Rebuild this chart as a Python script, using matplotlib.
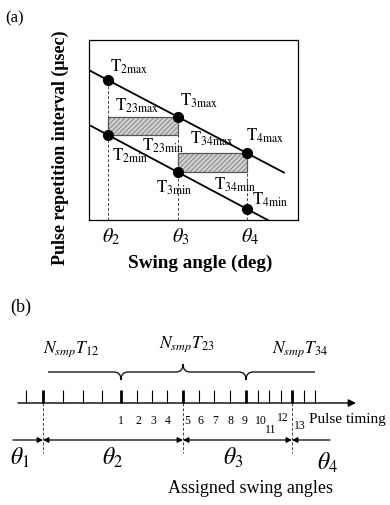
import numpy as np
import matplotlib
matplotlib.use('Agg')
import matplotlib.pyplot as plt
from matplotlib.patches import Rectangle, PathPatch
from matplotlib.path import Path

plt.rcParams['font.family'] = ['Liberation Serif', 'DejaVu Serif']
plt.rcParams['mathtext.fontset'] = 'stix'
plt.rcParams['hatch.linewidth'] = 0.6
plt.rcParams['hatch.color'] = '#7a7a7a'

# (a) pulse repetition interval vs swing angle
theta = [2.0, 3.0, 4.0]
theta_labels = [r'$\theta_2$', r'$\theta_3$', r'$\theta_4$']
t_max = [140, 103, 67]
t_min = [85, 48, 11]
max_names = ['2max', '3max', '4max']
min_names = ['2min', '3min', '4min']

# (b) pulse timing (pixel time units)
pulse_t = [26, 43, 63, 83, 102, 121, 137, 152, 167, 183, 199, 214, 230, 246,
           258, 269, 281, 292, 304, 315]
major_t = [43, 121, 183, 246, 292]
boundary_t = [43, 183, 292]
pulse_numbers = list(range(1, 14))
first_numbered = 5
bottom_thetas = [r'$\theta_1$', r'$\theta_2$', r'$\theta_3$', r'$\theta_4$']

fig = plt.figure(figsize=(3.9, 5.05), dpi=100)

# overlay in pixel coords for panel (b) and panel tags
ax2 = fig.add_axes([0, 0, 1, 1])
ax2.set_xlim(0, 390)
ax2.set_ylim(505, 0)
ax2.axis('off')

# ---------------- panel (a) ----------------
ax1 = fig.add_axes([89/390, (505-220)/505, 209/390, 180/505])
px = 69.5  # pixels per theta unit
ax1.set_xlim(2 - 19/px, 2 + 190/px)
ax1.set_ylim(0, 180)
for s in ax1.spines.values():
    s.set_linewidth(0.9)

fmax = np.polyfit(theta, t_max, 1)
fmin = np.polyfit(theta, t_min, 1)
xa = np.array([2 - 19/px, 2 + 176/px])
ax1.plot(xa, np.polyval(fmax, xa), color='k', lw=1.3)
xb = np.array([2 - 19/px, 2 + 163/px])
ax1.plot(xb, np.polyval(fmin, xb), color='k', lw=1.3)

# hatched bands
for i in range(2):
    r = Rectangle((theta[i], t_min[i]), theta[i+1] - theta[i], t_max[i+1] - t_min[i],
                  facecolor='#d0d0d0', edgecolor='#7a7a7a', hatch='///////', lw=0, zorder=1)
    ax1.add_patch(r)
    ax1.add_patch(Rectangle((theta[i], t_min[i]), theta[i+1] - theta[i], t_max[i+1] - t_min[i],
                            fill=False, edgecolor='#555555', lw=0.9, zorder=2))

# dashed guides
for i in range(3):
    ax1.plot([theta[i], theta[i]], [0, t_max[i]], color='#444444', lw=0.7,
             ls=(0, (3, 2)), zorder=1)

ax1.plot(theta, t_max, 'o', color='k', ms=7, zorder=5)
ax1.plot(theta, t_min, 'o', color='k', ms=7, zorder=5)

def lab(txt, xy, off):
    ax1.annotate(r'$\mathrm{T}_{\mathrm{%s}}$' % txt, xy, xytext=off,
                 textcoords='offset pixels', fontsize=12, ha='left', va='baseline')

lab(max_names[0], (theta[0], t_max[0]), (2, 8))
lab(max_names[1], (theta[1], t_max[1]), (2, 11))
lab(max_names[2], (theta[2], t_max[2]), (-1, 12))
lab(min_names[0], (theta[0], t_min[0]), (4, -26))
lab(min_names[1], (theta[1], t_min[1]), (-21, -21))
lab(min_names[2], (theta[2], t_min[2]), (5, 4))
lab('23max', (theta[0], t_max[1]), (7, 6))
lab('23min', (theta[0], t_min[0]), (34, -16))
lab('34max', (theta[1], t_max[2]), (12, 9))
lab('34min', (theta[1], t_min[1]), (37, -18))

ax1.set_xticks(np.array(theta) + 3/px, theta_labels, fontsize=14.5)
ax1.set_yticks([])
ax1.tick_params(axis='x', length=0, pad=5)
ax1.set_xlabel('Swing angle (deg)', fontsize=13.8, fontweight='bold')
ax1.xaxis.set_label_coords((200 - 89)/209, -0.19)
ax1.set_ylabel(u'Pulse repetition interval (\u03bcsec)', fontsize=13, fontweight='bold')
ax1.yaxis.set_label_coords(-0.095, (220 - 148)/180)

ax2.text(5, 22, '(a)', fontsize=12, ha='left', va='baseline')

# ---------------- panel (b) ----------------
ax2.text(10, 312, '(b)', fontsize=13, ha='left', va='baseline')

y_ax = 403
ax2.annotate('', xy=(356, y_ax), xytext=(18, y_ax),
             arrowprops=dict(arrowstyle='-|>', color='k', lw=1.0,
                             mutation_scale=11, shrinkA=0, shrinkB=0))
for t in pulse_t:
    ax2.plot([t, t], [y_ax - 13, y_ax], color='k',
             lw=2.0 if t in major_t else 0.8, solid_capstyle='butt')

num_dx = [0, 1, 1, 1, 4, 1, 1, 1, -1, 3, 2, 2, 8]
num_y = [424, 424, 424, 424, 424, 424, 424, 424, 424, 424, 433, 421, 429]
for k, n in enumerate(pulse_numbers):
    t = pulse_t[first_numbered + k]
    ax2.text(t + num_dx[k], num_y[k], str(n), fontsize=8.5, ha='center', va='baseline')

ax2.text(309, 423, 'Pulse timing', fontsize=11, ha='left', va='baseline')

for t in boundary_t:
    ax2.plot([t, t], [y_ax, 453], color='#444444', lw=0.7, ls=(0, (3, 2)))

ya = 440
aprops = dict(color='k', lw=0.9, mutation_scale=8, shrinkA=0, shrinkB=0)
ax2.annotate('', xy=(boundary_t[0], ya), xytext=(13, ya),
             arrowprops=dict(arrowstyle='-|>', **aprops))
ax2.annotate('', xy=(boundary_t[1], ya), xytext=(boundary_t[0], ya),
             arrowprops=dict(arrowstyle='<|-|>', **aprops))
ax2.annotate('', xy=(boundary_t[2], ya), xytext=(boundary_t[1], ya),
             arrowprops=dict(arrowstyle='<|-|>', **aprops))
ax2.annotate('', xy=(330, ya), xytext=(boundary_t[2], ya),
             arrowprops=dict(arrowstyle='<|-', **aprops))

th_x = [10, 102, 223, 317]
th_y = [465, 465, 465, 470]
for k, s in enumerate(bottom_thetas):
    ax2.text(th_x[k], th_y[k], s, fontsize=17, ha='left', va='baseline')

ax2.text(251, 493, 'Assigned swing angles', fontsize=13, ha='center', va='baseline')

# brace over the pulse train
def brace(x0, x1, y, cusps, w=7, h=8):
    verts = [(x0, y)]
    codes = [Path.MOVETO]
    for xc, d in cusps:
        verts += [(xc - w, y), (xc, y), (xc, y + d*h), (xc, y), (xc + w, y)]
        codes += [Path.LINETO, Path.CURVE3, Path.CURVE3, Path.CURVE3, Path.CURVE3]
    verts.append((x1, y))
    codes.append(Path.LINETO)
    return Path(verts, codes)

yb = 372
bp = brace(48, 315, yb, [(pulse_t[5], 1), (pulse_t[9], -1), (pulse_t[13], 1)])
ax2.add_patch(PathPatch(bp, fill=False, edgecolor='k', lw=0.9))

ax2.text(43, 353, r'$N_{smp}T_{\mathrm{12}}$', fontsize=12.5, ha='left', va='baseline')
ax2.text(159, 348, r'$N_{smp}T_{\mathrm{23}}$', fontsize=12.5, ha='left', va='baseline')
ax2.text(272, 353, r'$N_{smp}T_{\mathrm{34}}$', fontsize=12.5, ha='left', va='baseline')

fig.savefig('out.png', dpi=100)
